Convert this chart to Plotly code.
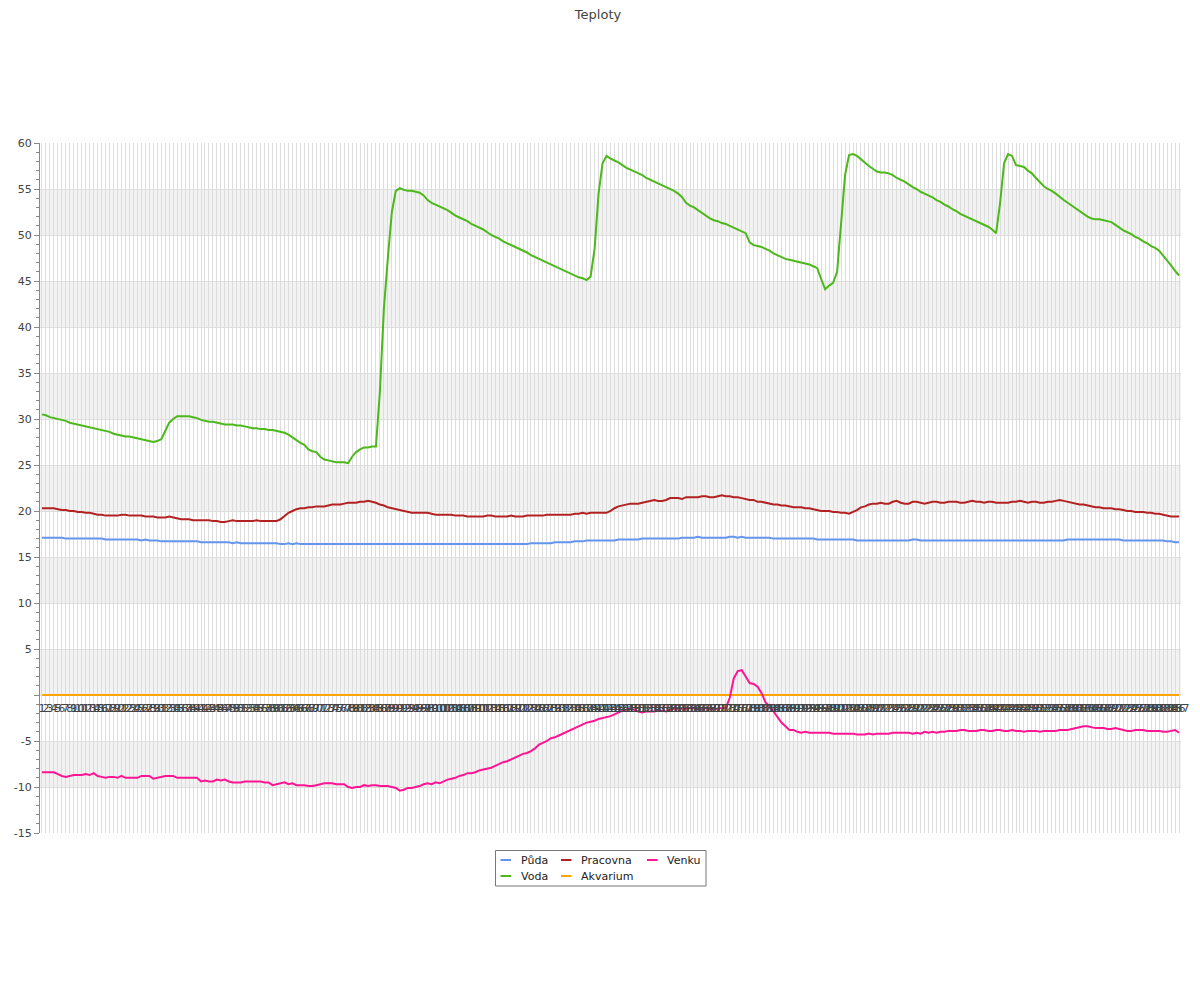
import plotly.graph_objects as go

categories = [str(n) for n in range(1, 288)]

puda = [
17.1,17.1,17.1,17.1,17.1,17.1,17.0,17.0,17.0,17.0,
17.0,17.0,17.0,17.0,17.0,17.0,16.9,16.9,16.9,16.9,
16.9,16.9,16.9,16.9,16.9,16.8,16.9,16.8,16.8,16.8,
16.7,16.7,16.7,16.7,16.7,16.7,16.7,16.7,16.7,16.7,
16.6,16.6,16.6,16.6,16.6,16.6,16.6,16.6,16.5,16.6,
16.5,16.5,16.5,16.5,16.5,16.5,16.5,16.5,16.5,16.5,
16.4,16.4,16.5,16.4,16.5,16.4,16.4,16.4,16.4,16.4,
16.4,16.4,16.4,16.4,16.4,16.4,16.4,16.4,16.4,16.4,
16.4,16.4,16.4,16.4,16.4,16.4,16.4,16.4,16.4,16.4,
16.4,16.4,16.4,16.4,16.4,16.4,16.4,16.4,16.4,16.4,
16.4,16.4,16.4,16.4,16.4,16.4,16.4,16.4,16.4,16.4,
16.4,16.4,16.4,16.4,16.4,16.4,16.4,16.4,16.4,16.4,
16.4,16.4,16.4,16.5,16.5,16.5,16.5,16.5,16.5,16.6,
16.6,16.6,16.6,16.6,16.7,16.7,16.7,16.8,16.8,16.8,
16.8,16.8,16.8,16.8,16.8,16.9,16.9,16.9,16.9,16.9,
16.9,17.0,17.0,17.0,17.0,17.0,17.0,17.0,17.0,17.0,
17.0,17.1,17.1,17.1,17.1,17.2,17.1,17.1,17.1,17.1,
17.1,17.1,17.1,17.2,17.2,17.1,17.2,17.1,17.1,17.1,
17.1,17.1,17.1,17.1,17.0,17.0,17.0,17.0,17.0,17.0,
17.0,17.0,17.0,17.0,17.0,16.9,16.9,16.9,16.9,16.9,
16.9,16.9,16.9,16.9,16.9,16.8,16.8,16.8,16.8,16.8,
16.8,16.8,16.8,16.8,16.8,16.8,16.8,16.8,16.8,16.9,
16.9,16.8,16.8,16.8,16.8,16.8,16.8,16.8,16.8,16.8,
16.8,16.8,16.8,16.8,16.8,16.8,16.8,16.8,16.8,16.8,
16.8,16.8,16.8,16.8,16.8,16.8,16.8,16.8,16.8,16.8,
16.8,16.8,16.8,16.8,16.8,16.8,16.8,16.8,16.9,16.9,
16.9,16.9,16.9,16.9,16.9,16.9,16.9,16.9,16.9,16.9,
16.9,16.9,16.8,16.8,16.8,16.8,16.8,16.8,16.8,16.8,
16.8,16.8,16.8,16.7,16.7,16.6,16.6]

voda = [
30.5,30.4,30.2,30.1,30.0,29.9,29.8,29.6,29.5,29.4,
29.3,29.2,29.1,29.0,28.9,28.8,28.7,28.6,28.4,28.3,
28.2,28.1,28.1,28.0,27.9,27.8,27.7,27.6,27.5,27.6,
27.8,28.7,29.6,30.0,30.3,30.3,30.3,30.3,30.2,30.1,
29.9,29.8,29.7,29.7,29.6,29.5,29.4,29.4,29.4,29.3,
29.3,29.2,29.1,29.0,29.0,28.9,28.9,28.8,28.8,28.7,
28.6,28.5,28.3,28.0,27.7,27.4,27.2,26.7,26.5,26.4,
25.9,25.6,25.5,25.4,25.3,25.3,25.3,25.2,25.9,26.4,
26.7,26.9,26.9,27.0,27.0,33.0,42.0,47.5,52.5,54.8,
55.1,54.9,54.8,54.8,54.7,54.6,54.3,53.8,53.5,53.3,
53.1,52.9,52.7,52.4,52.1,51.9,51.7,51.5,51.2,51.0,
50.8,50.6,50.3,50.0,49.8,49.6,49.3,49.1,48.9,48.7,
48.5,48.3,48.1,47.8,47.6,47.4,47.2,47.0,46.8,46.6,
46.4,46.2,46.0,45.8,45.6,45.4,45.3,45.1,45.5,48.5,
54.5,57.8,58.6,58.3,58.1,57.9,57.6,57.3,57.1,56.9,
56.7,56.5,56.2,56.0,55.8,55.6,55.4,55.2,55.0,54.8,
54.5,54.1,53.5,53.2,53.0,52.7,52.4,52.1,51.8,51.6,
51.5,51.3,51.2,51.0,50.8,50.6,50.4,50.2,49.2,48.9,
48.8,48.7,48.5,48.3,48.0,47.8,47.6,47.4,47.3,47.2,
47.1,47.0,46.9,46.8,46.6,46.4,45.2,44.1,44.5,44.8,
46.0,51.0,56.5,58.7,58.8,58.6,58.2,57.8,57.5,57.2,
56.9,56.8,56.8,56.7,56.5,56.2,56.0,55.8,55.5,55.2,
55.0,54.7,54.5,54.3,54.1,53.8,53.6,53.3,53.1,52.8,
52.6,52.3,52.1,51.9,51.7,51.5,51.3,51.1,50.9,50.6,
50.2,53.5,57.8,58.8,58.6,57.6,57.5,57.4,57.0,56.7,
56.2,55.7,55.3,55.0,54.8,54.5,54.1,53.8,53.5,53.2,
52.9,52.6,52.3,52.0,51.8,51.7,51.7,51.6,51.5,51.4,
51.1,50.8,50.5,50.3,50.1,49.8,49.6,49.3,49.1,48.8,
48.6,48.3,47.8,47.3,46.7,46.1,45.6]

pracovna = [
20.3,20.3,20.3,20.3,20.2,20.1,20.1,20.0,20.0,19.9,
19.9,19.8,19.8,19.7,19.6,19.6,19.5,19.5,19.5,19.5,
19.6,19.6,19.5,19.5,19.5,19.5,19.4,19.4,19.4,19.3,
19.3,19.3,19.4,19.3,19.2,19.1,19.1,19.1,19.0,19.0,
19.0,19.0,19.0,18.9,18.9,18.8,18.8,18.9,19.0,18.9,
18.9,18.9,18.9,18.9,19.0,18.9,18.9,18.9,18.9,18.9,
19.1,19.5,19.8,20.0,20.2,20.3,20.3,20.4,20.4,20.5,
20.5,20.5,20.6,20.7,20.7,20.7,20.8,20.9,20.9,20.9,
21.0,21.0,21.1,21.0,20.9,20.7,20.6,20.4,20.3,20.2,
20.1,20.0,19.9,19.8,19.8,19.8,19.8,19.8,19.7,19.6,
19.6,19.6,19.6,19.6,19.5,19.5,19.5,19.4,19.4,19.4,
19.4,19.4,19.5,19.5,19.4,19.4,19.4,19.4,19.5,19.4,
19.4,19.4,19.5,19.5,19.5,19.5,19.5,19.6,19.6,19.6,
19.6,19.6,19.6,19.6,19.7,19.7,19.8,19.7,19.8,19.8,
19.8,19.8,19.8,20.0,20.3,20.5,20.6,20.7,20.8,20.8,
20.8,20.9,21.0,21.1,21.2,21.1,21.1,21.2,21.4,21.4,
21.4,21.3,21.5,21.5,21.5,21.5,21.6,21.6,21.5,21.5,
21.6,21.7,21.6,21.6,21.5,21.5,21.4,21.3,21.2,21.2,
21.0,21.0,20.9,20.8,20.7,20.7,20.6,20.6,20.5,20.4,
20.4,20.4,20.3,20.3,20.2,20.1,20.0,20.0,20.0,19.9,
19.9,19.8,19.8,19.7,19.9,20.1,20.4,20.5,20.7,20.8,
20.8,20.9,20.8,20.8,21.0,21.1,20.9,20.8,20.8,21.0,
21.0,20.9,20.8,20.9,21.0,21.0,20.9,20.9,21.0,21.0,
21.0,20.9,20.9,21.0,21.1,21.0,21.0,20.9,21.0,21.0,
20.9,20.9,20.9,20.9,21.0,21.0,21.1,21.0,20.9,21.0,
21.0,20.9,20.9,21.0,21.0,21.1,21.2,21.1,21.0,20.9,
20.8,20.7,20.7,20.6,20.5,20.4,20.4,20.3,20.3,20.3,
20.2,20.2,20.1,20.0,20.0,19.9,19.9,19.9,19.8,19.8,
19.7,19.7,19.6,19.5,19.4,19.4,19.4]

akvarium = [0.0] * len(categories)

venku = [
-8.4,-8.4,-8.4,-8.4,-8.6,-8.8,-8.9,-8.8,-8.7,-8.7,
-8.7,-8.6,-8.7,-8.5,-8.8,-8.9,-9.0,-8.9,-8.9,-9.0,
-8.8,-9.0,-9.0,-9.0,-9.0,-8.8,-8.8,-8.8,-9.1,-9.0,
-8.9,-8.8,-8.8,-8.8,-9.0,-9.0,-9.0,-9.0,-9.0,-9.0,
-9.4,-9.3,-9.4,-9.4,-9.2,-9.3,-9.2,-9.4,-9.5,-9.5,
-9.5,-9.4,-9.4,-9.4,-9.4,-9.4,-9.5,-9.5,-9.8,-9.7,
-9.6,-9.5,-9.7,-9.6,-9.8,-9.8,-9.8,-9.9,-9.9,-9.8,
-9.7,-9.6,-9.6,-9.6,-9.7,-9.7,-9.7,-10.0,-10.1,-10.0,
-10.0,-9.8,-9.9,-9.8,-9.8,-9.9,-9.9,-9.9,-10.0,-10.1,
-10.4,-10.3,-10.1,-10.1,-10.0,-9.9,-9.7,-9.6,-9.7,-9.5,
-9.6,-9.4,-9.2,-9.1,-9.0,-8.8,-8.7,-8.5,-8.5,-8.4,
-8.2,-8.1,-8.0,-7.9,-7.7,-7.5,-7.3,-7.2,-7.0,-6.8,
-6.6,-6.4,-6.3,-6.1,-5.8,-5.4,-5.2,-5.0,-4.7,-4.6,
-4.4,-4.2,-4.0,-3.8,-3.6,-3.4,-3.2,-3.0,-2.9,-2.8,
-2.6,-2.5,-2.4,-2.3,-2.1,-1.9,-1.7,-1.6,-1.5,-1.6,
-1.8,-1.9,-1.8,-1.8,-1.8,-1.7,-1.7,-1.8,-1.6,-1.5,
-1.5,-1.5,-1.5,-1.4,-1.4,-1.5,-1.6,-1.4,-1.5,-1.5,
-1.5,-1.4,-1.4,-0.3,1.8,2.6,2.7,2.0,1.3,1.2,
0.9,0.2,-0.8,-1.2,-1.8,-2.5,-3.0,-3.4,-3.8,-3.8,
-4.0,-4.1,-4.0,-4.1,-4.1,-4.1,-4.1,-4.1,-4.1,-4.2,
-4.2,-4.2,-4.2,-4.2,-4.2,-4.3,-4.3,-4.3,-4.2,-4.3,
-4.2,-4.2,-4.2,-4.2,-4.1,-4.1,-4.1,-4.1,-4.1,-4.2,
-4.1,-4.2,-4.0,-4.1,-4.0,-4.1,-4.0,-4.0,-3.9,-3.9,
-3.9,-3.8,-3.8,-3.9,-3.9,-3.9,-3.8,-3.8,-3.9,-3.9,
-3.8,-3.8,-3.9,-3.9,-3.8,-3.9,-3.9,-4.0,-3.9,-3.9,
-3.9,-4.0,-3.9,-3.9,-3.9,-3.9,-3.8,-3.8,-3.8,-3.7,
-3.6,-3.5,-3.4,-3.4,-3.5,-3.6,-3.6,-3.6,-3.7,-3.7,
-3.6,-3.7,-3.8,-3.9,-3.9,-3.8,-3.8,-3.8,-3.9,-3.9,
-3.9,-3.9,-4.0,-4.0,-3.9,-3.8,-4.1]

y_ticks = [-15, -10, -5, 0, 5, 10, 15, 20, 25, 30, 35, 40, 45, 50, 55, 60]
y_ticktext = ["-15", "-10", "-5", "", "5", "10", "15", "20", "25", "30", "35", "40", "45", "50", "55", "60"]
bands = [(-10, -5), (0, 5), (10, 15), (20, 25), (30, 35), (40, 45), (50, 55)]

FONT = "DejaVu Sans"
series_names = ["Půda", "Voda", "Pracovna", "Akvarium", "Venku"]
series_values = [puda, voda, pracovna, akvarium, venku]
series_colors = ["#6495ED", "#4CB81A", "#B22222", "#FFA500", "#FF1493"]

# page geometry (the page adds an 8px body margin around the figure)
PAGE_OFF = 8
FIG_W, FIG_H = 1192, 992
PLOT_L, PLOT_R, PLOT_T, PLOT_B = 40, 1181, 143, 833  # page pixels of the plot area


def px_x(px):
    return (px - PLOT_L) / (PLOT_R - PLOT_L)


def px_y(py):
    return (PLOT_B - py) / (PLOT_B - PLOT_T)


fig = go.Figure()
for name, vals, color in zip(series_names, series_values, series_colors):
    fig.add_trace(go.Scatter(
        x=categories, y=vals, name=name, mode="lines",
        line=dict(color=color, width=2), showlegend=False,
    ))

shapes = []
for lo, hi in bands:
    shapes.append(dict(type="rect", xref="paper", yref="y", x0=0, x1=1, y0=lo, y1=hi,
                       fillcolor="#F2F2F2", line=dict(width=0), layer="below"))

# legend: frame, 3 columns x 2 rows (column-major order)
shapes.append(dict(type="rect", xref="paper", yref="paper",
                   x0=px_x(495.5), x1=px_x(706), y0=px_y(886), y1=px_y(850.5),
                   line=dict(color="#777777", width=1), fillcolor="rgba(0,0,0,0)"))
legend_cols = [500.5, 561, 647]
legend_rows = [860, 876]
annotations = []
for k, (name, color) in enumerate(zip(series_names, series_colors)):
    cx = legend_cols[k // 2]
    cy = legend_rows[k % 2]
    shapes.append(dict(type="line", xref="paper", yref="paper",
                       x0=px_x(cx), x1=px_x(cx + 10.5), y0=px_y(cy), y1=px_y(cy),
                       line=dict(color=color, width=2)))
    annotations.append(dict(text=name, xref="paper", yref="paper",
                            x=px_x(cx + 19), y=px_y(cy), xanchor="left", yanchor="middle",
                            showarrow=False, borderpad=0,
                            font=dict(family=FONT, size=11, color="#222222")))

fig.update_layout(
    width=FIG_W, height=FIG_H,
    margin=dict(l=PLOT_L - PAGE_OFF, r=FIG_W - (PLOT_R - PAGE_OFF),
                t=PLOT_T - PAGE_OFF, b=FIG_H - (PLOT_B - PAGE_OFF)),
    paper_bgcolor="white", plot_bgcolor="white",
    font=dict(family=FONT, size=11, color="#444"),
    title=dict(text="Teploty", x=(598 - PAGE_OFF) / FIG_W, xanchor="center",
               y=1 - 6 / FIG_H, yanchor="middle",
               font=dict(family=FONT, size=13, color="#444")),
    showlegend=False,
    shapes=shapes,
    annotations=annotations,
    xaxis=dict(
        type="category", range=[-0.5, len(categories) - 0.5],
        anchor="free", position=0.2,
        tickmode="array", tickvals=categories, ticktext=categories,
        tickangle=0, tickfont=dict(family=FONT, size=11, color="#444"),
        ticklabelstandoff=5,
        showgrid=True, gridcolor="#DDDDDD", gridwidth=1,
        showline=False, zeroline=False, ticks="", automargin=False,
    ),
    yaxis=dict(
        range=[-15, 60], tickmode="array", tickvals=y_ticks, ticktext=y_ticktext,
        showgrid=True, gridcolor="#DDDDDD", gridwidth=1,
        showline=True, linecolor="#888888", linewidth=1,
        ticks="outside", ticklen=5, tickcolor="#888888",
        minor=dict(dtick=1, ticks="outside", ticklen=3, tickcolor="#888888", showgrid=False),
        zeroline=False, tickfont=dict(family=FONT, size=11, color="#444"),
        automargin=False,
    ),
)

fig.write_html("out.html")
